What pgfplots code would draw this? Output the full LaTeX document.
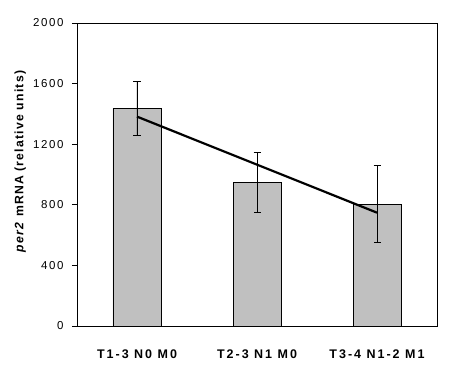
\documentclass[border=0pt]{standalone}
\usepackage{pgfplots}
\pgfplotsset{compat=1.18}
\usepackage{fontspec}
\setmainfont{Liberation Sans}
\begin{document}
\begin{tikzpicture}
\begin{axis}[
  scale only axis,
  width=360bp, height=303bp,
  xmin=-0.5, xmax=2.5,
  ymin=0, ymax=2000,
  ytick={0,400,800,1200,1600,2000},
  xtick={0,1,2},
  xticklabels={T1-3 N0 M0, T2-3 N1 M0, T3-4 N1-2 M1},
  x tick style={draw=none},
  y tick style={black, line width=0.8bp},
  tick align=outside,
  major tick length=5bp,
  ytick pos=left,
  axis line style={line width=0.8bp},
  /pgf/number format/assume math mode=true,
  /pgf/number format/1000 sep={},
  yticklabel style={font=\fontsize{11.5bp}{13bp}\selectfont\addfontfeature{LetterSpace=14}, xshift=-5bp},
  xticklabel style={font=\fontsize{12.5bp}{14bp}\selectfont\bfseries\addfontfeature{LetterSpace=16}, yshift=-15bp},
  ylabel={\textit{per2} mRNA (relative units)},
  ylabel style={font=\fontsize{12.2bp}{14bp}\selectfont\bfseries\addfontfeature{LetterSpace=10}, at={(axis description cs:-0.158,0.543)}, anchor=center},
  clip=false,
]
\coordinate (sw) at (rel axis cs:0,0);
\addplot[ybar, bar width=48bp, fill={rgb,255:red,192;green,192;blue,192}, draw=black, line width=0.8bp,
  error bars/.cd, y dir=both, y explicit,
  error bar style={line width=0.8bp, black},
  error mark options={rotate=90, mark size=3.5bp, line width=0.8bp, black}]
  coordinates {
  (0,1437) +- (0,178)
  (1,948) +- (0,200)
  (2,805) +- (0,256)
  };
\addplot[black, line width=2.2bp, no marks] coordinates {(0,1382) (2,748)};
\end{axis}
\pgfresetboundingbox
\path[use as bounding box] (sw) ++(-77bp,-50bp) rectangle ++(449bp,376bp);
\end{tikzpicture}
\end{document}
